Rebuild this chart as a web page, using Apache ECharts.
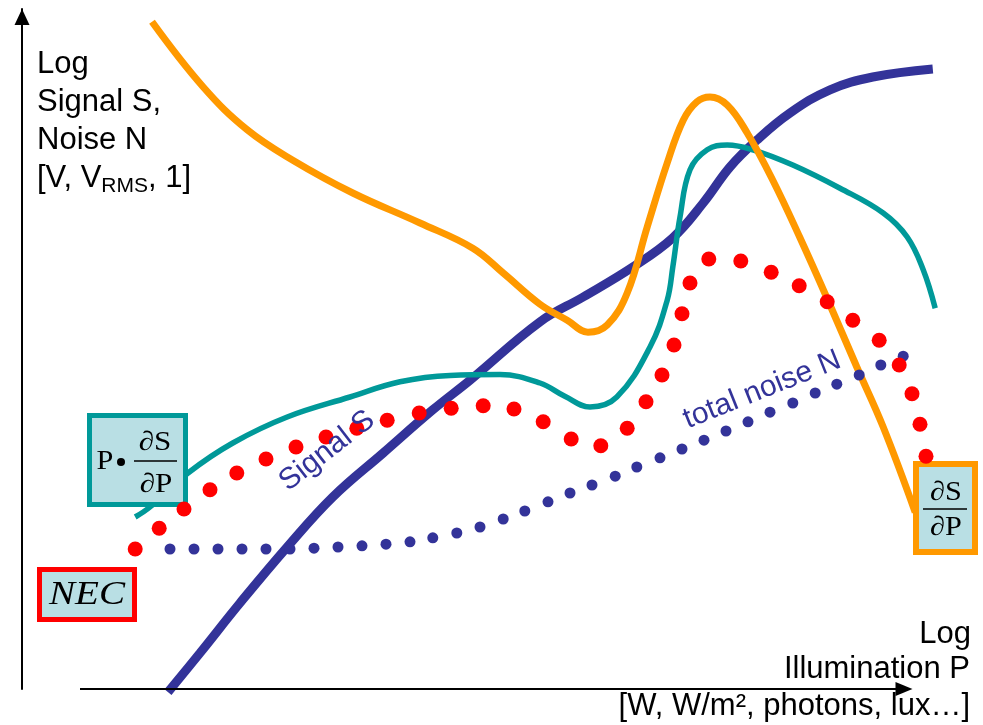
<!DOCTYPE html>
<html>
<head>
<meta charset="utf-8">
<script src="https://cdn.jsdelivr.net/npm/echarts@6/dist/echarts.min.js"></script>
<style>
  html, body { margin: 0; padding: 0; background: #fff; }
  #main { width: 983px; height: 725px; }
</style>
</head>
<body>
<div id="main"></div>
<script>
// 横轴 log P，纵轴 log S / N（任意单位，从图上读出）
// 信号 S（粗蓝线）
const signalS = [
  [11.0, -0.4], [15.0, 4.5], [20.0, 10.75], [25.9, 17.75], [31.6, 24.0],
  [37.9, 29.5], [44.1, 34.9], [48.75, 38.6], [57.5, 45.9], [62.9, 49.0],
  [69.1, 52.75], [74.1, 56.4], [77.9, 60.75], [81.25, 65.25], [84.6, 68.6],
  [88.75, 72.0], [93.75, 74.9], [99.1, 76.5], [106.6, 77.5]
];
// 灵敏度 dS/dP（橙线）
const sensitivity = [
  [9.0, 83.4], [15.4, 75.25], [20.9, 69.9], [26.6, 66.1], [34.1, 62.0],
  [42.5, 58.25], [49.1, 55.1], [52.9, 52.0], [57.5, 48.1], [60.9, 46.1],
  [63.5, 44.6], [65.9, 45.5], [68.4, 49.5], [70.9, 57.75], [73.4, 65.75],
  [75.4, 71.1], [77.1, 73.4], [78.75, 74.0], [80.9, 73.0], [83.4, 69.5],
  [86.6, 63.6], [90.0, 56.4], [93.75, 48.0], [97.1, 40.25], [100.4, 32.75],
  [104.4, 22.1]
];
// P·dS/dP（青线）
const relSensitivity = [
  [6.9, 21.5], [8.75, 22.75], [13.5, 27.0], [19.1, 30.75], [25.9, 34.0],
  [33.75, 36.5], [40.0, 38.4], [46.25, 39.2], [52.5, 39.3], [57.5, 38.25],
  [60.6, 36.6], [63.75, 35.25], [67.1, 36.5], [71.25, 42.75], [73.4, 48.6],
  [74.1, 52.75], [75.0, 59.0], [76.25, 64.9], [78.4, 67.4], [80.9, 68.0],
  [84.1, 67.4], [89.1, 65.5], [95.0, 62.6], [100.4, 59.5], [103.4, 56.5],
  [105.4, 52.4], [106.9, 47.6]
];
// NEC（红色点线）
const nec = [
  [6.9, 17.5], [9.9, 20.1], [13.0, 22.5], [16.25, 24.9], [19.6, 27.0],
  [23.25, 28.75], [27.0, 30.25], [30.75, 31.5], [34.6, 32.6], [38.4, 33.6],
  [42.4, 34.5], [46.4, 35.1], [50.4, 35.4], [54.25, 35.0], [57.9, 33.4],
  [61.4, 31.25], [65.1, 30.4], [68.4, 32.6], [70.75, 35.9], [72.75, 39.25],
  [74.25, 43.0], [75.25, 46.9], [76.25, 50.75], [78.6, 53.75], [82.6, 53.5],
  [86.4, 52.1], [89.9, 50.4], [93.4, 48.4], [96.6, 46.1], [99.9, 43.6],
  [102.4, 40.5], [104.0, 36.9], [105.0, 33.1], [105.75, 29.1]
];
// 总噪声 N（蓝色点线）
const totalNoise = [
  [11.25, 17.5], [14.25, 17.5], [17.25, 17.5], [20.25, 17.5], [23.25, 17.5],
  [26.25, 17.5], [29.25, 17.6], [32.25, 17.75], [35.25, 17.9], [38.25, 18.1],
  [41.25, 18.4], [44.1, 18.9], [47.1, 19.5], [50.0, 20.25], [52.9, 21.25],
  [55.6, 22.25], [58.5, 23.4], [61.25, 24.5], [64.0, 25.5], [66.9, 26.6],
  [69.6, 27.75], [72.5, 28.9], [75.25, 30.0], [78.0, 31.1], [80.75, 32.25],
  [83.5, 33.4], [86.25, 34.6], [89.1, 35.75], [91.9, 37.0], [94.6, 38.1],
  [97.4, 39.25], [100.1, 40.5], [102.9, 41.6]
];
// 横轴箭头的起止（数据单位）
const xArrow = [[0, 0], [103, 0]];

const sans = '"Liberation Sans", Arial, sans-serif';
const serif = '"Liberation Serif", "Times New Roman", serif';
const boxFill = '#b9dfe4';

let myChart = echarts.init(document.getElementById('main'));

let option = {
  animation: false,
  backgroundColor: '#fff',
  // 右侧留出曲线超出箭头的部分
  grid: { left: 80, right: 39, top: 9, bottom: 36 },
  xAxis: {
    type: 'value', min: 0, max: 108,
    axisLine: { show: false },
    axisTick: { show: false },
    axisLabel: { show: false },
    splitLine: { show: false }
  },
  yAxis: {
    type: 'value', min: 0, max: 85, offset: 58,
    axisLine: {
      show: true, onZero: false,
      symbol: ['none', 'triangle'],
      symbolSize: [15, 16],
      symbolOffset: [0, -8],
      lineStyle: { color: '#000', width: 2 }
    },
    axisTick: { show: false },
    axisLabel: { show: false },
    splitLine: { show: false }
  },
  series: [
    {
      name: 'Signal S', type: 'line', data: signalS, smooth: 0.4,
      symbol: 'none', clip: false, z: 2,
      lineStyle: { color: '#333399', width: 9 },
      // 横轴（带箭头）
      markLine: {
        silent: true,
        symbol: ['none', 'triangle'],
        symbolSize: [14, 17],
        label: { show: false },
        lineStyle: { color: '#000', width: 2, type: 'solid' },
        data: [[{ coord: xArrow[0] }, { coord: xArrow[1] }]]
      }
    },
    {
      name: 'P·∂S/∂P', type: 'line', data: relSensitivity, smooth: 0.4,
      symbol: 'none', clip: false, z: 2,
      lineStyle: { color: '#009999', width: 5.5 }
    },
    {
      name: 'total noise N', type: 'scatter', data: totalNoise,
      symbol: 'circle', symbolSize: 11, clip: false, z: 2,
      itemStyle: { color: '#333399', opacity: 1 }
    },
    {
      name: '∂S/∂P', type: 'line', data: sensitivity, smooth: 0.4,
      symbol: 'none', clip: false, z: 2,
      lineStyle: { color: '#ff9900', width: 7 }
    },
    {
      name: 'NEC', type: 'scatter', data: nec,
      symbol: 'circle', symbolSize: 15, clip: false, z: 4,
      itemStyle: { color: '#ff0000', opacity: 1 }
    }
  ],
  graphic: [
    // 纵轴标题
    {
      type: 'text', x: 37, y: 46, z: 5,
      style: {
        text: 'Log\nSignal S,\nNoise N\n[V, V{s|RMS}, 1]',
        font: '31px ' + sans, lineHeight: 37.8, fill: '#000',
        align: 'left', verticalAlign: 'top',
        rich: { s: { fontSize: 21, fontFamily: sans, verticalAlign: 'bottom', lineHeight: 13 } }
      }
    },
    // 横轴标题
    { type: 'text', x: 971, y: 634, z: 5, style: { text: 'Log', font: '31px ' + sans, fill: '#000', align: 'right', verticalAlign: 'middle' } },
    { type: 'text', x: 970, y: 669, z: 5, style: { text: 'Illumination P', font: '31px ' + sans, fill: '#000', align: 'right', verticalAlign: 'middle' } },
    { type: 'text', x: 970, y: 706, z: 5, style: { text: '[W, W/m², photons, lux…]', font: '31px ' + sans, fill: '#000', align: 'right', verticalAlign: 'middle' } },
    // 曲线旁的标注
    { type: 'text', x: 327, y: 451, rotation: 0.66, z: 5, style: { text: 'Signal S', font: '30px ' + sans, fill: '#333399', align: 'center', verticalAlign: 'middle' } },
    { type: 'text', x: 762, y: 390, rotation: 0.38, z: 5, style: { text: 'total noise N', font: '30px ' + sans, fill: '#333399', align: 'center', verticalAlign: 'middle' } },
    // P·dS/dP 框
    { type: 'rect', z: 3, shape: { x: 89.5, y: 415.5, width: 96, height: 89 }, style: { fill: boxFill, stroke: '#009999', lineWidth: 5 } },
    { type: 'text', z: 3, x: 105, y: 462, scaleX: 1.12, style: { text: 'P', font: '27px ' + serif, fill: '#000', align: 'center', verticalAlign: 'middle' } },
    { type: 'circle', z: 3, shape: { cx: 121, cy: 462, r: 4 }, style: { fill: '#000' } },
    { type: 'text', z: 3, x: 155, y: 443, scaleX: 1.15, style: { text: '∂S', font: '27px ' + serif, fill: '#000', align: 'center', verticalAlign: 'middle' } },
    { type: 'line', z: 3, shape: { x1: 134, y1: 461, x2: 177, y2: 461 }, style: { stroke: '#000', lineWidth: 1.5 } },
    { type: 'text', z: 3, x: 156, y: 485, scaleX: 1.15, style: { text: '∂P', font: '27px ' + serif, fill: '#000', align: 'center', verticalAlign: 'middle' } },
    // NEC 框
    { type: 'rect', z: 3, shape: { x: 39.5, y: 569.5, width: 95, height: 50 }, style: { fill: boxFill, stroke: '#ff0000', lineWidth: 5 } },
    { type: 'text', z: 3, x: 87, y: 595, scaleX: 1.15, style: { text: 'NEC', font: 'italic 34px ' + serif, fill: '#000', align: 'center', verticalAlign: 'middle' } },
    // dS/dP 框
    { type: 'rect', z: 3, shape: { x: 916, y: 464, width: 59, height: 88 }, style: { fill: boxFill, stroke: '#ff9900', lineWidth: 6 } },
    { type: 'text', z: 3, x: 946, y: 493, scaleX: 1.12, style: { text: '∂S', font: '27px ' + serif, fill: '#000', align: 'center', verticalAlign: 'middle' } },
    { type: 'line', z: 3, shape: { x1: 923, y1: 509, x2: 967, y2: 509 }, style: { stroke: '#000', lineWidth: 1.5 } },
    { type: 'text', z: 3, x: 946, y: 528, scaleX: 1.12, style: { text: '∂P', font: '27px ' + serif, fill: '#000', align: 'center', verticalAlign: 'middle' } }
  ]
};

option && myChart.setOption(option);
</script>
</body>
</html>
